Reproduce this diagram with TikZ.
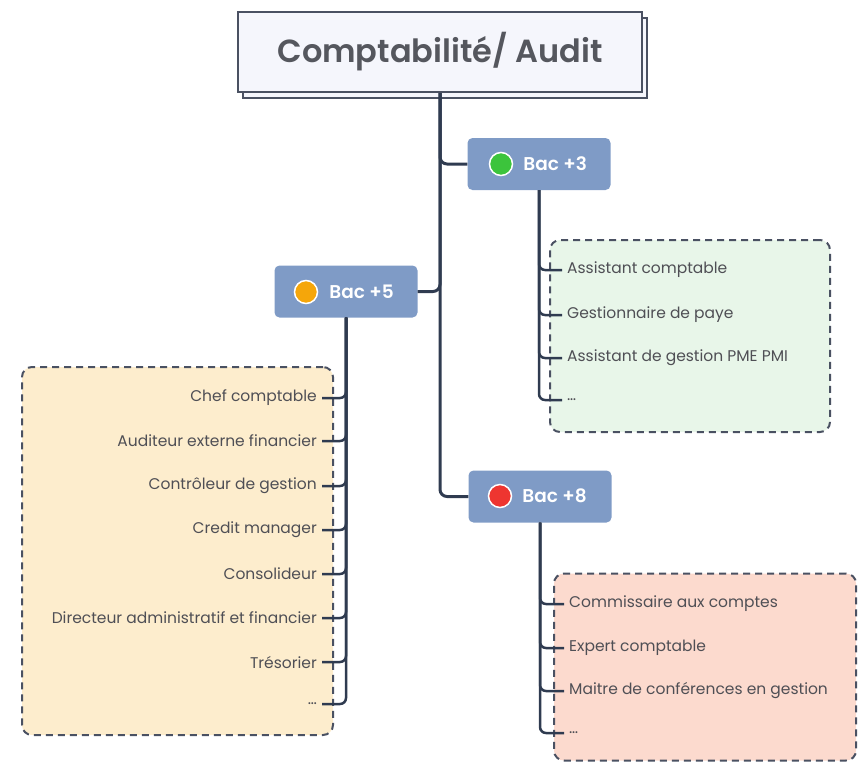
\documentclass[tikz,border=0pt]{standalone}
\usepackage{fontspec}
\setmainfont{Poppins}[BoldFont={Poppins SemiBold}]
\usetikzlibrary{positioning, backgrounds, shadows}
\definecolor{linecol}{HTML}{2F3B50}
\definecolor{framecol}{HTML}{4A5162}
\definecolor{titlefill}{HTML}{F5F6FC}
\definecolor{titletext}{HTML}{55575E}
\definecolor{levelfill}{HTML}{7F9BC6}
\definecolor{jobtext}{HTML}{4F4F55}
\definecolor{dotgreen}{HTML}{3CC43C}
\definecolor{dotorange}{HTML}{F5A60A}
\definecolor{dotred}{HTML}{EE3530}
\definecolor{greenfill}{HTML}{E8F6E9}
\definecolor{orangefill}{HTML}{FDEDCD}
\definecolor{redfill}{HTML}{FCDACE}
\tikzset{%
	title/.style={draw=framecol, line width=2pt, fill=titlefill, minimum width=404pt,%
		minimum height=80pt, text=titletext, font=\fontsize{32}{38}\selectfont\bfseries,%
		copy shadow={shadow xshift=5pt, shadow yshift=-6pt}},
	level/.style={fill=levelfill, rounded corners=5pt, minimum width=143pt, minimum height=52pt},
	leveltext/.style={text=white, font=\fontsize{18.5}{22}\selectfont\bfseries, inner sep=0pt},
	dot/.style={circle, draw=white, line width=1.5pt, minimum size=23pt, inner sep=0pt},
	job/.style={text=jobtext, font=\fontsize{15.5}{18}\selectfont, inner xsep=5pt},
	group/.style={draw=framecol, line width=2pt, dash pattern=on 7pt off 5pt, rounded corners=10pt},
	trunk/.style={draw=linecol, line width=3pt, rounded corners=7pt},
	branch/.style={draw=linecol, line width=2.5pt, rounded corners=6pt}
}

\begin{document}
\begin{tikzpicture}[x=1pt, y=-1pt]
  \useasboundingbox (0,0) rectangle (859,764);

  \node[title] (title) at (440,52) {Comptabilité/ Audit};

  \node[level] (bac3) at (539,164) {};
  \node[dot, fill=dotgreen] (dot3) at (501,164) {};
  \node[leveltext, right=10pt of dot3] {Bac +3};

  \node[level] (bac5) at (346,291.5) {};
  \node[dot, fill=dotorange] (dot5) at (306,292) {};
  \node[leveltext, right=11pt of dot5] {Bac +5};

  \node[level] (bac8) at (540,496.5) {};
  \node[dot, fill=dotred] (dot8) at (500,496) {};
  \node[leveltext, right=10pt of dot8] {Bac +8};

  % Bac +3
  \node[job, anchor=west] (a1) at (562,270) {Assistant comptable};
  \node[job, anchor=west] (a2) at (562,315) {Gestionnaire de paye};
  \node[job, anchor=west] (a3) at (562,358) {Assistant de gestion PME PMI};
  \node[job, anchor=west] (a4) at (562,400) {\ldots};

  % Bac +5
  \node[job, anchor=east] (b1) at (322,398) {Chef comptable};
  \node[job, anchor=east] (b2) at (322,441) {Auditeur externe financier};
  \node[job, anchor=east] (b3) at (322,486) {Contrôleur de gestion};
  \node[job, anchor=east] (b4) at (322,530) {Credit manager};
  \node[job, anchor=east] (b5) at (322,574) {Consolideur};
  \node[job, anchor=east] (b6) at (322,618) {Directeur administratif et financier};
  \node[job, anchor=east] (b7) at (322,662) {Trésorier};
  \node[job, anchor=east] (b8) at (322,704) {\ldots};

  % Bac +8
  \node[job, anchor=west] (c1) at (564,604) {Commissaire aux comptes};
  \node[job, anchor=west] (c2) at (564,648) {Expert comptable};
  \node[job, anchor=west] (c3) at (564,691) {Maitre de conférences en gestion};
  \node[job, anchor=west] (c4) at (564,733) {\ldots};

  \begin{scope}[on background layer]
    \node[group, fill=greenfill, minimum width=280pt, minimum height=192pt] (jobs3) at (690,336) {};
    \node[group, fill=orangefill, minimum width=311pt, minimum height=368pt] (jobs5) at (177.5,551) {};
    \node[group, fill=redfill, minimum width=302pt, minimum height=187pt] (jobs8) at (705,667) {};
  \end{scope}

  \draw[trunk] (title.south) |- (bac3.west);
  \draw[trunk] (title.south) |- (bac5.east);
  \draw[trunk] (title.south) |- (bac8.west);

  \foreach \j in {a1,a2,a3,a4}
    \draw[branch] (bac3.south) |- (\j.west);
  \foreach \j in {b1,b2,b3,b4,b5,b6,b7,b8}
    \draw[branch] (bac5.south) |- (\j.east);
  \foreach \j in {c1,c2,c3,c4}
    \draw[branch] (bac8.south) |- (\j.west);
\end{tikzpicture}
\end{document}
